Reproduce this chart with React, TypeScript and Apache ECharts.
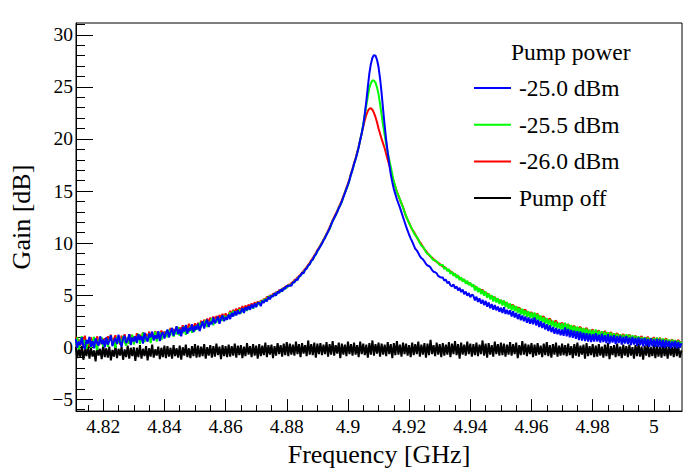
import React, { useEffect, useRef } from 'react';
import * as echarts from 'echarts';

const FONT = 'Liberation Serif, Times New Roman, serif';

// Frequency sampling grid (GHz)
const FREQ_START = 4.811;
const FREQ_STEP = 0.0005;

const X_MIN = 4.8111;
const X_MAX = 5.0092;
const Y_MIN = -6.13;
const Y_MAX = 31.13;

const X_MAJOR = [4.82, 4.84, 4.86, 4.88, 4.9, 4.92, 4.94, 4.96, 4.98, 5.0];
const X_MINOR = [4.815, 4.82, 4.825, 4.83, 4.835, 4.84, 4.845, 4.85, 4.855, 4.86, 4.865, 4.87, 4.875, 4.88,
  4.885, 4.89, 4.895, 4.9, 4.905, 4.91, 4.915, 4.92, 4.925, 4.93, 4.935, 4.94, 4.945, 4.95, 4.955, 4.96,
  4.965, 4.97, 4.975, 4.98, 4.985, 4.99, 4.995, 5.0, 5.005];
const Y_MAJOR = [-5, 0, 5, 10, 15, 20, 25, 30];
const Y_MINOR = [-6, -5, -4, -3, -2, -1, 0, 1, 2, 3, 4, 5, 6, 7, 8, 9, 10, 11, 12, 13, 14, 15, 16, 17, 18, 19,
  20, 21, 22, 23, 24, 25, 26, 27, 28, 29, 30, 31];

const SERIES_NAMES = ['-25.0 dBm', '-25.5 dBm', '-26.0 dBm', 'Pump off'];
const HEADER = 'Pump power';

// Gain [dB], one value per frequency sample (20 samples = 0.01 GHz per row)
const GAIN_M250 = [
  0.80, -0.05, 0.55, 0.20, 0.95, 0.10, -0.15, 0.70, 0.35, 1.00, 0.05, 0.60, -0.10, 0.85, 0.45, 0.15, 1.05, 0.30, 0.75, 0.00,
  0.95, 0.25, 0.65, 1.15, 0.10, 0.55, 0.90, 0.30, 1.20, 0.50, 0.05, 0.85, 1.10, 0.40, 0.70, 1.25, 0.20, 0.95, 0.55, 1.05,
  0.40, 1.25, 0.70, 1.05, 0.35, 1.40, 0.85, 0.55, 1.30, 0.95, 1.50, 0.65, 1.15, 0.80, 1.55, 0.60, 1.25, 1.45, 0.85, 1.35,
  1.70, 0.95, 1.45, 1.85, 1.10, 1.60, 2.00, 1.25, 1.75, 1.05, 1.95, 1.50, 2.15, 1.30, 1.85, 1.60, 2.20, 1.45, 2.05, 1.70,
  2.25, 1.55, 2.05, 2.50, 1.80, 2.35, 2.65, 1.95, 2.45, 2.20, 2.85, 2.30, 2.60, 2.95, 2.25, 2.75, 3.05, 2.50, 2.90, 2.65,
  3.15, 2.70, 3.30, 2.95, 3.45, 3.05, 3.55, 3.20, 3.40, 3.75, 3.30, 3.85, 3.55, 3.95, 3.60, 4.10, 3.75, 4.20, 3.85, 4.25,
  4.25, 3.95, 4.45, 4.25, 4.60, 4.40, 4.85, 4.60, 4.95, 4.85, 5.20, 4.95, 5.35, 5.20, 5.55, 5.35, 5.70, 5.60, 5.90, 5.85,
  5.95, 5.90, 6.25, 6.20, 6.50, 6.45, 6.80, 6.85, 7.15, 7.10, 7.45, 7.55, 7.85, 7.95, 8.30, 8.40, 8.75, 8.90, 9.25, 9.45,
  9.70, 9.95, 10.25, 10.50, 10.80, 11.10, 11.40, 11.75, 12.10, 12.40, 12.70, 13.00, 13.35, 13.65, 14.00, 14.40, 14.80, 15.20, 15.60, 16.05,
  16.60, 17.05, 17.60, 18.05, 18.60, 19.20, 19.90, 20.55, 21.30, 22.40, 23.60, 25.00, 26.30, 27.20, 27.80, 28.05, 28.00, 27.60, 26.90, 25.80,
  24.40, 22.80, 21.30, 19.90, 18.70, 17.60, 16.60, 15.85, 15.20, 14.70, 14.20, 13.80, 13.40, 12.95, 12.50, 12.05, 11.60, 11.20, 10.80, 10.45,
  10.15, 9.80, 9.45, 9.30, 9.05, 8.75, 8.55, 8.45, 8.25, 8.00, 7.85, 7.80, 7.65, 7.40, 7.25, 7.20, 7.10, 6.85, 6.75, 6.70,
  6.70, 6.40, 6.50, 6.15, 6.30, 5.95, 5.85, 6.05, 5.65, 5.85, 5.45, 5.70, 5.30, 5.55, 5.10, 5.35, 4.95, 5.20, 4.80, 5.05,
  4.95, 4.50, 4.85, 4.35, 4.70, 4.20, 4.55, 4.05, 4.45, 3.90, 4.30, 3.75, 4.15, 3.60, 4.05, 3.55, 3.90, 3.40, 3.80, 3.30,
  3.85, 3.20, 3.60, 3.15, 3.55, 2.95, 3.45, 2.85, 3.30, 2.70, 3.20, 2.60, 3.05, 2.50, 2.95, 2.35, 2.85, 2.25, 2.75, 2.20,
  2.85, 2.10, 2.65, 1.95, 2.50, 1.85, 2.35, 1.70, 2.20, 1.55, 2.10, 1.45, 1.95, 1.30, 1.85, 1.25, 1.75, 1.15, 1.70, 1.10,
  1.90, 1.05, 1.75, 0.95, 1.65, 0.90, 1.60, 0.80, 1.55, 0.70, 1.50, 0.65, 1.40, 0.60, 1.35, 0.55, 1.30, 0.50, 1.25, 0.55,
  1.35, 0.55, 1.20, 0.45, 1.30, 0.50, 1.15, 0.40, 1.25, 0.35, 1.10, 0.45, 1.15, 0.30, 1.05, 0.40, 1.10, 0.25, 1.00, 0.35,
  1.05, 0.30, 0.95, 0.20, 1.00, 0.25, 0.90, 0.15, 0.95, 0.20, 0.85, 0.10, 0.90, 0.15, 0.80, 0.05, 0.85, 0.10, 0.75, 0.05,
  0.80, 0.05, 0.75, 0.00, 0.70, -0.05, 0.65, 0.05, 0.60, -0.10, 0.55, 0.00, 0.60, -0.10, 0.50, -0.05, 0.40,
];

const GAIN_M255 = [
  0.30, 0.95, -0.20, 0.60, 1.05, 0.10, 0.70, -0.15, 0.45, 0.90, -0.05, 0.55, 1.00, 0.20, -0.25, 0.75, 0.35, 0.95, 0.05, 0.50,
  0.85, 0.05, 0.70, 1.15, 0.20, 0.60, -0.05, 1.00, 0.40, 0.85, 0.10, 1.10, 0.50, 0.15, 0.95, 0.35, 0.75, 1.20, 0.25, 0.90,
  0.55, 1.30, 0.30, 0.95, 1.40, 0.50, 1.05, 0.65, 1.35, 0.40, 1.20, 0.80, 1.50, 0.55, 1.10, 1.45, 0.70, 1.25, 0.90, 1.55,
  0.95, 1.65, 1.15, 1.85, 1.00, 1.55, 1.25, 1.95, 1.10, 1.70, 1.35, 2.00, 1.20, 1.80, 1.45, 2.05, 1.40, 1.90, 1.55, 2.10,
  1.70, 2.35, 1.90, 2.50, 2.05, 2.65, 1.95, 2.45, 2.25, 2.80, 2.10, 2.70, 2.35, 2.90, 2.40, 2.85, 2.55, 3.05, 2.60, 3.00,
  2.85, 3.35, 2.95, 3.50, 3.05, 3.40, 3.20, 3.65, 3.25, 3.75, 3.35, 3.80, 3.50, 3.90, 3.65, 4.05, 3.70, 4.15, 3.90, 4.30,
  4.10, 4.40, 4.30, 4.60, 4.45, 4.75, 4.60, 4.95, 4.80, 5.05, 4.95, 5.25, 5.15, 5.40, 5.30, 5.60, 5.50, 5.75, 5.70, 5.95,
  5.90, 6.05, 6.15, 6.35, 6.40, 6.60, 6.70, 6.90, 7.05, 7.25, 7.40, 7.60, 7.80, 8.00, 8.25, 8.45, 8.70, 8.95, 9.20, 9.45,
  9.75, 9.95, 10.30, 10.50, 10.85, 11.10, 11.35, 11.75, 12.15, 12.40, 12.65, 13.00, 13.40, 13.65, 13.95, 14.40, 14.85, 15.20, 15.55, 16.05,
  16.60, 17.05, 17.60, 18.05, 18.60, 19.20, 19.90, 20.60, 21.40, 22.30, 23.20, 24.10, 24.90, 25.35, 25.60, 25.60, 25.40, 24.95, 24.30, 23.35,
  22.30, 21.30, 20.40, 19.50, 18.70, 18.00, 17.30, 16.60, 15.90, 15.40, 14.90, 14.55, 14.20, 13.80, 13.40, 13.00, 12.60, 12.25, 11.90, 11.60,
  11.35, 11.00, 10.75, 10.60, 10.35, 10.00, 9.75, 9.65, 9.45, 9.15, 8.95, 8.90, 8.75, 8.50, 8.35, 8.35, 8.25, 8.05, 7.90, 7.90,
  7.90, 7.50, 7.65, 7.30, 7.50, 7.05, 7.25, 6.85, 7.10, 6.65, 6.90, 6.45, 6.70, 6.30, 6.55, 6.10, 6.40, 5.95, 6.20, 5.80,
  6.05, 5.45, 5.85, 5.30, 5.70, 5.10, 5.50, 4.95, 5.35, 4.75, 5.15, 4.60, 5.00, 4.40, 4.85, 4.30, 4.70, 4.15, 4.55, 4.00,
  4.50, 3.85, 4.35, 3.70, 4.20, 3.55, 4.05, 3.45, 3.95, 3.30, 3.80, 3.15, 3.70, 3.05, 3.55, 2.90, 3.45, 2.80, 3.35, 2.70,
  3.35, 2.65, 3.20, 2.50, 3.05, 2.40, 2.90, 2.25, 2.80, 2.10, 2.70, 2.00, 2.55, 1.90, 2.45, 1.80, 2.35, 1.70, 2.30, 1.60,
  2.35, 1.55, 2.25, 1.45, 2.15, 1.40, 2.05, 1.35, 2.00, 1.25, 1.90, 1.20, 1.85, 1.10, 1.80, 1.05, 1.70, 1.00, 1.65, 0.95,
  1.70, 0.90, 1.60, 0.85, 1.55, 0.80, 1.50, 0.75, 1.45, 0.70, 1.40, 0.60, 1.35, 0.55, 1.30, 0.50, 1.25, 0.50, 1.20, 0.45,
  1.25, 0.45, 1.20, 0.40, 1.15, 0.40, 1.10, 0.35, 1.05, 0.30, 1.00, 0.30, 1.00, 0.25, 0.95, 0.25, 0.90, 0.20, 0.90, 0.20,
  0.95, 0.20, 0.90, 0.15, 0.85, 0.15, 0.80, 0.10, 0.75, 0.05, 0.75, 0.05, 0.70, 0.00, 0.65, 0.00, 0.55,
];

const GAIN_M260 = [
  1.00, 0.40, 0.75, 0.15, 0.90, 0.55, 1.10, 0.25, 0.65, 0.05, 0.95, 0.45, 0.80, 0.20, 1.05, 0.50, 0.30, 0.90, 0.60, 0.85,
  0.35, 1.05, 0.60, 1.20, 0.30, 0.80, 1.15, 0.45, 0.95, 0.25, 1.10, 0.70, 1.25, 0.50, 0.90, 0.35, 1.20, 0.75, 1.05, 0.60,
  1.35, 0.75, 1.20, 0.65, 1.45, 0.90, 1.30, 0.70, 1.50, 1.00, 1.40, 0.85, 1.55, 1.05, 1.35, 0.95, 1.60, 1.15, 1.50, 1.10,
  1.60, 1.20, 1.85, 1.35, 1.75, 1.40, 2.00, 1.45, 1.90, 1.55, 2.10, 1.60, 2.00, 1.70, 2.25, 1.75, 2.15, 1.80, 2.30, 1.85,
  2.35, 1.95, 2.55, 2.10, 2.65, 2.25, 2.75, 2.30, 2.85, 2.45, 2.95, 2.55, 3.00, 2.65, 3.10, 2.75, 3.20, 2.80, 3.25, 2.90,
  3.10, 3.50, 3.15, 3.60, 3.30, 3.70, 3.40, 3.80, 3.50, 3.95, 3.60, 4.00, 3.75, 4.10, 3.85, 4.20, 3.95, 4.30, 4.10, 4.40,
  4.15, 4.50, 4.35, 4.65, 4.50, 4.85, 4.70, 5.00, 4.85, 5.15, 5.05, 5.30, 5.20, 5.50, 5.40, 5.65, 5.55, 5.85, 5.75, 6.00,
  6.00, 6.15, 6.25, 6.45, 6.50, 6.70, 6.80, 7.00, 7.15, 7.35, 7.50, 7.70, 7.90, 8.10, 8.35, 8.55, 8.80, 9.05, 9.30, 9.55,
  9.80, 10.05, 10.35, 10.60, 10.90, 11.20, 11.50, 11.85, 12.20, 12.50, 12.80, 13.10, 13.45, 13.75, 14.10, 14.50, 14.90, 15.30, 15.70, 16.15,
  16.70, 17.15, 17.70, 18.15, 18.70, 19.25, 19.90, 20.55, 21.20, 21.80, 22.30, 22.70, 22.90, 22.95, 22.80, 22.50, 22.10, 21.60, 21.00, 20.50,
  20.00, 19.55, 19.10, 18.55, 18.00, 17.50, 17.00, 16.40, 15.85, 15.40, 14.95, 14.55, 14.15, 13.80, 13.45, 13.00, 12.55, 12.25, 11.95, 11.60,
  11.30, 11.10, 10.85, 10.55, 10.30, 10.10, 9.90, 9.65, 9.40, 9.25, 9.05, 8.85, 8.70, 8.60, 8.45, 8.30, 8.20, 8.10, 8.00, 7.85,
  7.75, 7.70, 7.60, 7.45, 7.35, 7.30, 7.20, 7.05, 6.90, 6.90, 6.85, 6.65, 6.50, 6.50, 6.45, 6.25, 6.15, 6.15, 6.10, 5.95,
  5.85, 5.85, 5.75, 5.60, 5.45, 5.50, 5.50, 5.30, 5.15, 5.15, 5.10, 4.90, 4.75, 4.80, 4.80, 4.60, 4.45, 4.50, 4.50, 4.35,
  4.25, 4.30, 4.20, 4.05, 3.95, 4.05, 4.05, 3.85, 3.70, 3.80, 3.80, 3.60, 3.45, 3.55, 3.60, 3.40, 3.20, 3.30, 3.35, 3.15,
  3.05, 3.15, 3.20, 2.95, 2.75, 2.90, 2.95, 2.70, 2.50, 2.65, 2.75, 2.50, 2.30, 2.45, 2.55, 2.30, 2.10, 2.25, 2.35, 2.10,
  1.95, 2.10, 2.20, 1.95, 1.80, 1.95, 2.05, 1.80, 1.70, 1.85, 1.95, 1.70, 1.55, 1.70, 1.85, 1.60, 1.40, 1.55, 1.70, 1.45,
  1.30, 1.50, 1.60, 1.35, 1.20, 1.40, 1.55, 1.30, 1.10, 1.30, 1.45, 1.20, 1.00, 1.20, 1.35, 1.10, 0.90, 1.10, 1.25, 1.00,
  0.85, 1.05, 1.20, 0.95, 0.75, 0.95, 1.10, 0.90, 0.70, 0.90, 1.05, 0.80, 0.65, 0.85, 1.00, 0.75, 0.60, 0.80, 0.95, 0.70,
  0.55, 0.75, 0.90, 0.60, 0.45, 0.70, 0.85, 0.55, 0.40, 0.60, 0.75, 0.50, 0.35, 0.55, 0.70, 0.45, 0.50,
];

const GAIN_OFF = [
  0.05, -1.05, -0.10, -0.95, 0.10, -1.20, -0.20, -0.85, 0.15, -1.10, -0.05, -0.90, -0.30, -1.35, 0.00, -0.80, -0.15, -1.15, 0.20, -0.95,
  -0.10, -1.00, 0.05, -1.25, -0.25, -0.90, 0.10, -1.05, -0.15, -0.80, 0.05, -1.20, -0.20, -0.95, 0.15, -1.10, -0.05, -0.85, 0.00, -1.30,
  -0.05, -0.95, 0.20, -1.10, -0.15, -0.85, 0.10, -1.25, -0.10, -0.90, 0.25, -1.00, -0.20, -0.80, 0.05, -1.15, -0.05, -0.95, 0.15, -1.05,
  0.10, -0.90, -0.05, -1.10, 0.20, -0.85, -0.10, -1.00, 0.15, -1.20, 0.00, -0.80, 0.25, -0.95, -0.10, -1.05, 0.10, -0.85, 0.30, -1.00,
  0.15, -0.95, 0.05, -0.85, 0.30, -1.10, 0.00, -0.80, 0.20, -1.00, 0.10, -0.90, 0.35, -0.75, 0.05, -1.15, 0.20, -0.85, 0.10, -0.95,
  0.25, -0.90, 0.10, -0.80, 0.35, -1.00, 0.15, -0.75, 0.20, -1.05, 0.05, -0.85, 0.40, -0.70, 0.10, -0.95, 0.30, -0.80, 0.15, -1.10,
  0.30, -0.85, 0.15, -0.75, 0.45, -0.95, 0.20, -0.70, 0.25, -1.05, 0.10, -0.80, 0.40, -0.65, 0.20, -0.90, 0.35, -0.75, 0.50, -0.85,
  0.35, -0.70, 0.25, -0.80, 0.55, -0.65, 0.30, -0.95, 0.40, -0.60, 0.20, -0.85, 0.65, -0.70, 0.30, -0.75, 0.45, -1.00, 0.35, -0.65,
  0.40, -0.75, 0.25, -0.65, 0.50, -0.90, 0.30, -0.70, 0.60, -0.80, 0.20, -0.60, 0.45, -1.05, 0.35, -0.70, 0.25, -0.85, 0.55, -0.65,
  0.30, -0.80, 0.45, -0.70, 0.20, -0.95, 0.55, -0.65, 0.35, -0.75, 0.25, -1.00, 0.40, -0.70, 0.65, -0.80, 0.30, -0.60, 0.45, -0.90,
  0.35, -0.70, 0.25, -0.85, 0.50, -0.65, 0.30, -1.05, 0.40, -0.75, 0.60, -0.70, 0.25, -0.90, 0.45, -0.65, 0.35, -0.80, 0.20, -0.95,
  0.45, -0.75, 0.30, -0.65, 0.55, -0.90, 0.25, -0.70, 0.40, -1.00, 0.35, -0.75, 0.70, -0.65, 0.20, -0.85, 0.45, -0.70, 0.30, -0.95,
  0.40, -0.80, 0.25, -0.70, 0.50, -0.95, 0.35, -0.65, 0.60, -0.75, 0.30, -1.10, 0.45, -0.70, 0.25, -0.80, 0.55, -0.65, 0.35, -0.90,
  0.30, -0.75, 0.45, -0.85, 0.25, -0.65, 0.65, -0.80, 0.35, -1.00, 0.40, -0.70, 0.20, -0.90, 0.55, -0.65, 0.30, -0.80, 0.45, -0.75,
  0.35, -0.90, 0.25, -0.70, 0.50, -0.80, 0.30, -0.65, 0.45, -1.05, 0.20, -0.75, 0.60, -0.70, 0.35, -0.85, 0.25, -0.65, 0.40, -0.95,
  0.25, -0.80, 0.40, -0.70, 0.15, -0.95, 0.35, -0.75, 0.50, -0.85, 0.20, -1.00, 0.30, -0.70, 0.45, -0.90, 0.15, -0.80, 0.35, -0.75,
  0.20, -0.85, 0.35, -0.75, 0.10, -1.05, 0.30, -0.80, 0.45, -0.90, 0.15, -0.70, 0.25, -1.10, 0.40, -0.85, 0.10, -0.75, 0.30, -0.95,
  0.15, -0.90, 0.30, -0.80, 0.05, -1.00, 0.25, -0.85, 0.40, -1.15, 0.10, -0.75, 0.20, -0.95, 0.35, -0.85, 0.05, -1.05, 0.25, -0.80,
  0.10, -0.95, 0.25, -0.80, 0.00, -1.10, 0.20, -0.85, 0.35, -0.90, 0.05, -1.20, 0.15, -0.80, 0.30, -0.95, 0.00, -0.85, 0.20, -1.05,
  0.15, -0.90, 0.05, -1.00, 0.25, -0.85, 0.10, -1.10, 0.20, -0.80, 0.00, -0.95, 0.30, -0.85, 0.05, -1.00, -0.30,
];

const COLORS = ['#0000ff', '#00ff00', '#ff0000', '#000000'];

const toPairs = (vals: number[]) =>
  vals.map((v, i) => [Number((FREQ_START + i * FREQ_STEP).toFixed(4)), v]);

function buildOption() {
  const seriesDefs = [
    { name: SERIES_NAMES[3], data: GAIN_OFF, color: COLORS[3] },
    { name: SERIES_NAMES[2], data: GAIN_M260, color: COLORS[2] },
    { name: SERIES_NAMES[1], data: GAIN_M255, color: COLORS[1] },
    { name: SERIES_NAMES[0], data: GAIN_M250, color: COLORS[0] },
  ];
  const axisText = { color: '#000', fontFamily: FONT, fontSize: 19.5, fontWeight: 'normal' };
  return {
    animation: false,
    backgroundColor: '#fff',
    textStyle: { fontFamily: FONT },
    grid: {
      left: 76, right: 14, top: 23, bottom: 57,
      show: true, borderColor: '#000', borderWidth: 1, backgroundColor: 'transparent',
    },
    legend: {
      data: SERIES_NAMES,
      orient: 'vertical',
      left: 474,
      top: 76,
      padding: 0,
      itemWidth: 37,
      itemHeight: 2,
      itemGap: 12.7,
      icon: 'rect',
      selectedMode: false,
      textStyle: { color: '#000', fontFamily: FONT, fontSize: 23.5, lineHeight: 24, padding: [0, 0, 0, 3] },
    },
    graphic: [
      {
        type: 'text',
        left: 511,
        top: 40,
        style: { text: HEADER, fill: '#000', font: `23.5px ${FONT}` },
      },
    ],
    xAxis: [
      {
        type: 'value', min: X_MIN, max: X_MAX, position: 'bottom',
        axisLine: { show: true, onZero: false, lineStyle: { color: '#000', width: 1 } },
        axisTick: { show: true, inside: true, length: 12, customValues: X_MAJOR, lineStyle: { color: '#000', width: 1 } },
        axisLabel: {
          show: true, customValues: X_MAJOR, margin: 5, ...axisText,
          formatter: (v: number) => String(parseFloat(v.toFixed(3))),
        },
        splitLine: { show: false },
        name: 'Frequency [GHz]', nameLocation: 'middle', nameGap: 20,
        nameTextStyle: { color: '#000', fontFamily: FONT, fontSize: 26 },
      },
      {
        type: 'value', min: X_MIN, max: X_MAX, position: 'bottom',
        axisLine: { show: false, onZero: false },
        axisTick: { show: true, inside: true, length: 6, customValues: X_MINOR, lineStyle: { color: '#000', width: 1 } },
        axisLabel: { show: false },
        splitLine: { show: false },
      },
    ],
    yAxis: [
      {
        type: 'value', min: Y_MIN, max: Y_MAX, position: 'left',
        axisLine: { show: true, onZero: false, lineStyle: { color: '#000', width: 1 } },
        axisTick: { show: true, inside: true, length: 17, customValues: Y_MAJOR, lineStyle: { color: '#000', width: 1 } },
        axisLabel: {
          show: true, customValues: Y_MAJOR, margin: 3, ...axisText,
          formatter: (v: number) => (v < 0 ? '\u2212' + Math.abs(v) : String(v)),
        },
        splitLine: { show: false },
        name: 'Gain [dB]', nameLocation: 'middle', nameGap: 42, nameRotate: 90,
        nameTextStyle: { color: '#000', fontFamily: FONT, fontSize: 26 },
      },
      {
        type: 'value', min: Y_MIN, max: Y_MAX, position: 'left',
        axisLine: { show: false, onZero: false },
        axisTick: { show: true, inside: true, length: 9, customValues: Y_MINOR, lineStyle: { color: '#000', width: 1 } },
        axisLabel: { show: false },
        splitLine: { show: false },
      },
    ],
    series: seriesDefs.map((s) => ({
      type: 'line',
      name: s.name,
      xAxisIndex: 0,
      yAxisIndex: 0,
      data: toPairs(s.data),
      showSymbol: false,
      symbol: 'none',
      color: s.color,
      lineStyle: { color: s.color, width: 2 },
      itemStyle: { color: s.color },
      emphasis: { disabled: true },
      silent: true,
    })),
  };
}

export default function App() {
  const ref = useRef<HTMLDivElement>(null);
  useEffect(() => {
    if (!ref.current) return;
    const chart = echarts.init(ref.current, null, { renderer: 'svg' });
    chart.setOption(buildOption() as any);
    return () => chart.dispose();
  }, []);
  return (
    <div
      ref={ref}
      style={{ position: 'fixed', left: 0, top: 0, width: 696, height: 472, background: '#fff' }}
    />
  );
}
